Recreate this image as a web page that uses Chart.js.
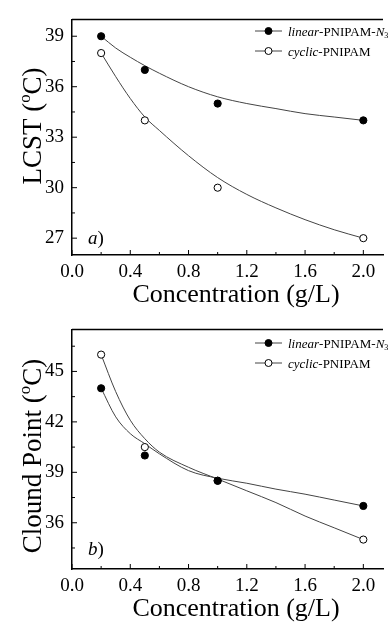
<!DOCTYPE html>
<html lang="en">
<head>
  <meta charset="UTF-8">
  <title>LCST and Cloud Point vs Concentration</title>
  <script src="https://cdn.jsdelivr.net/npm/chart.js"></script>
  <style>
    body {
      margin: 0;
      background: #fff;
      font-family: 'Liberation Serif', serif;
    }
    .panel {
      position: absolute;
      left: 0;
      width: 388px;
    }
    #panelA { top: 0; height: 310px; }
    #panelB { top: 310px; height: 313px; }
  </style>
</head>
<body>
  <div class="panel" id="panelA"><canvas id="lcstChart" width="388" height="310"></canvas></div>
  <div class="panel" id="panelB"><canvas id="cloudChart" width="388" height="313"></canvas></div>

  <script>
    // Measured points
    const concX = [0.2, 0.5, 1.0, 2.0];
    const lcstLinear = [39, 37, 35, 34];
    const lcstCyclic = [38, 34, 30, 27];
    const cloudLinear = [44, 40, 38.5, 37];
    const cloudCyclic = [46, 40.5, 38.5, 35];

    // Fit curves
    const fitX = [0.2, 0.3, 0.4, 0.5, 0.6, 0.8, 1.0, 1.2, 1.4, 1.6, 1.8, 2.0];
    const lcstLinearFit = [39.0, 38.3, 37.75, 37.25, 36.8, 36.0, 35.4, 35.0, 34.7, 34.4, 34.2, 34.0];
    const lcstCyclicFit = [38.0, 36.6, 35.3, 34.2, 33.4, 31.9, 30.6, 29.6, 28.8, 28.1, 27.5, 27.0];
    const cloudLinearFit = [44.0, 42.3, 41.3, 40.7, 40.1, 39.1, 38.65, 38.35, 38.0, 37.7, 37.35, 37.0];
    const cloudCyclicFit = [46.0, 43.8, 42.1, 41.0, 40.2, 39.3, 38.6, 37.9, 37.2, 36.4, 35.7, 35.0];

    // Ticks
    const xTicks = [0, 0.4, 0.8, 1.2, 1.6, 2.0];
    const xMinor = [0.2, 0.6, 1.0, 1.4, 1.8];
    const lcstTicks = [27, 30, 33, 36, 39];
    const lcstMinor = [28.5, 31.5, 34.5, 37.5];
    const cloudTicks = [36, 39, 42, 45];
    const cloudMinor = [34.5, 37.5, 40.5, 43.5, 46.5];

    const seriesNames = ['linear-PNIPAM-N3', 'cyclic-PNIPAM'];
    const FONT = '"Liberation Serif", "Times New Roman", serif';

    function pts(xs, ys) {
      return xs.map((x, i) => ({ x: x, y: ys[i] }));
    }

    // draws text made of pieces (italic / subscript / superscript)
    function richText(ctx, parts, x, y, size, align) {
      const fontFor = p => (p.i ? 'italic ' : '') + (p.sub || p.sup ? size * 0.62 : size) + 'px ' + FONT;
      let total = 0;
      parts.forEach(p => { ctx.font = fontFor(p); total += ctx.measureText(p.t).width; });
      let cx = align === 'center' ? x - total / 2 : x;
      ctx.textAlign = 'left';
      ctx.textBaseline = 'alphabetic';
      parts.forEach(p => {
        ctx.font = fontFor(p);
        let dy = 0;
        if (p.sub) dy = size * 0.22;
        if (p.sup) dy = -size * 0.42;
        ctx.fillText(p.t, cx, y + dy);
        cx += ctx.measureText(p.t).width;
      });
    }

    const legendParts = [
      [{ t: 'linear', i: true }, { t: '-PNIPAM-' }, { t: 'N', i: true }, { t: '3', sub: true }],
      [{ t: 'cyclic', i: true }, { t: '-PNIPAM' }]
    ];

    const decoPlugin = {
      id: 'deco',
      afterDraw(chart, args, o) {
        const ctx = chart.ctx;
        const a = chart.chartArea;
        const xs = chart.scales.x, ys = chart.scales.y;
        ctx.save();
        ctx.strokeStyle = '#000';
        ctx.fillStyle = '#000';

        // top frame line
        ctx.lineWidth = 1.5;
        ctx.beginPath();
        ctx.moveTo(a.left, a.top);
        ctx.lineTo(a.right, a.top);
        ctx.stroke();

        // inward tick marks
        ctx.lineWidth = 1;
        ctx.beginPath();
        xTicks.forEach(v => { const p = xs.getPixelForValue(v); ctx.moveTo(p, a.bottom); ctx.lineTo(p, a.bottom - 5); });
        xMinor.forEach(v => { const p = xs.getPixelForValue(v); ctx.moveTo(p, a.bottom); ctx.lineTo(p, a.bottom - 3); });
        o.yTicks.forEach(v => { const p = ys.getPixelForValue(v); ctx.moveTo(a.left, p); ctx.lineTo(a.left + 5, p); });
        o.yMinor.forEach(v => { const p = ys.getPixelForValue(v); ctx.moveTo(a.left, p); ctx.lineTo(a.left + 3, p); });
        ctx.stroke();

        // legend
        o.legendY.forEach((ly, i) => {
          ctx.strokeStyle = '#444';
          ctx.lineWidth = 1;
          ctx.beginPath();
          ctx.moveTo(255, ly - 4.5);
          ctx.lineTo(282, ly - 4.5);
          ctx.stroke();
          ctx.beginPath();
          ctx.arc(268.5, ly - 4.5, 3.5, 0, Math.PI * 2);
          ctx.fillStyle = i === 0 ? '#000' : '#fff';
          ctx.fill();
          ctx.strokeStyle = '#000';
          ctx.stroke();
          ctx.fillStyle = '#000';
          richText(ctx, legendParts[i], 288, ly, 13, 'left');
        });

        // panel label
        richText(ctx, [{ t: o.panel, i: true }, { t: ')' }], 88, o.panelY, 19, 'left');

        // x title
        richText(ctx, [{ t: 'Concentration (g/L)' }], 236, o.xTitleY, 26, 'center');

        // y title (rotated)
        ctx.translate(41, o.yTitleMid);
        ctx.rotate(-Math.PI / 2);
        richText(ctx, o.yTitle, 0, 0, 27, 'center');
        ctx.restore();
      }
    };

    function makeChart(id, linPts, cycPts, linFit, cycFit, yMin, yMax, yTicks, deco, axisH) {
      const ctx = document.getElementById(id).getContext('2d');
      return new Chart(ctx, {
        type: 'scatter',
        data: {
          datasets: [
            {
              label: seriesNames[0],
              data: pts(concX, linPts),
              pointRadius: 3.6,
              pointBackgroundColor: '#000',
              pointBorderColor: '#000',
              pointBorderWidth: 1,
              showLine: false
            },
            {
              label: seriesNames[1],
              data: pts(concX, cycPts),
              pointRadius: 3.6,
              pointBackgroundColor: '#fff',
              pointBorderColor: '#000',
              pointBorderWidth: 1,
              showLine: false
            },
            {
              label: seriesNames[0] + ' fit',
              data: pts(fitX, linFit),
              showLine: true,
              pointRadius: 0,
              borderColor: '#444',
              borderWidth: 1,
              cubicInterpolationMode: 'monotone'
            },
            {
              label: seriesNames[1] + ' fit',
              data: pts(fitX, cycFit),
              showLine: true,
              pointRadius: 0,
              borderColor: '#444',
              borderWidth: 1,
              cubicInterpolationMode: 'monotone'
            }
          ]
        },
        options: {
          responsive: false,
          animation: false,
          layout: { padding: { top: deco.top, right: 0, left: 0, bottom: 0 } },
          plugins: {
            legend: { display: false },
            tooltip: { enabled: false },
            deco: deco
          },
          scales: {
            x: {
              type: 'linear',
              min: 0,
              max: 2.135,
              grid: { display: false, drawTicks: false },
              border: { display: true, color: '#000', width: 1.5 },
              afterBuildTicks: s => { s.ticks = xTicks.map(v => ({ value: v })); },
              afterFit: s => { s.height = axisH; },
              ticks: {
                color: '#000',
                padding: 6,
                maxRotation: 0,
                font: { family: FONT, size: 19 },
                callback: v => Number(v).toFixed(1)
              }
            },
            y: {
              min: yMin,
              max: yMax,
              grid: { display: false, drawTicks: false },
              border: { display: true, color: '#000', width: 1.5 },
              afterBuildTicks: s => { s.ticks = yTicks.map(v => ({ value: v })); },
              afterFit: s => { s.width = 72; },
              ticks: {
                color: '#000',
                padding: 8,
                font: { family: FONT, size: 19 },
                callback: v => String(v)
              }
            }
          }
        },
        plugins: [decoPlugin]
      });
    }

    makeChart('lcstChart', lcstLinear, lcstCyclic, lcstLinearFit, lcstCyclicFit, 26, 40, lcstTicks, {
      top: 13,
      yTicks: lcstTicks,
      yMinor: lcstMinor,
      legendY: [35.5, 55.5],
      panel: 'a',
      panelY: 244,
      xTitleY: 302,
      yTitleMid: 126,
      yTitle: [{ t: 'LCST (' }, { t: 'o', sup: true }, { t: 'C)' }]
    }, 55);

    makeChart('cloudChart', cloudLinear, cloudCyclic, cloudLinearFit, cloudCyclicFit, 33.25, 47.5, cloudTicks, {
      top: 16,
      yTicks: cloudTicks,
      yMinor: cloudMinor,
      legendY: [37.5, 57.5],
      panel: 'b',
      panelY: 245,
      xTitleY: 306,
      yTitleMid: 146,
      yTitle: [{ t: 'Clound Point (' }, { t: 'o', sup: true }, { t: 'C)' }]
    }, 54);
  </script>
</body>
</html>
